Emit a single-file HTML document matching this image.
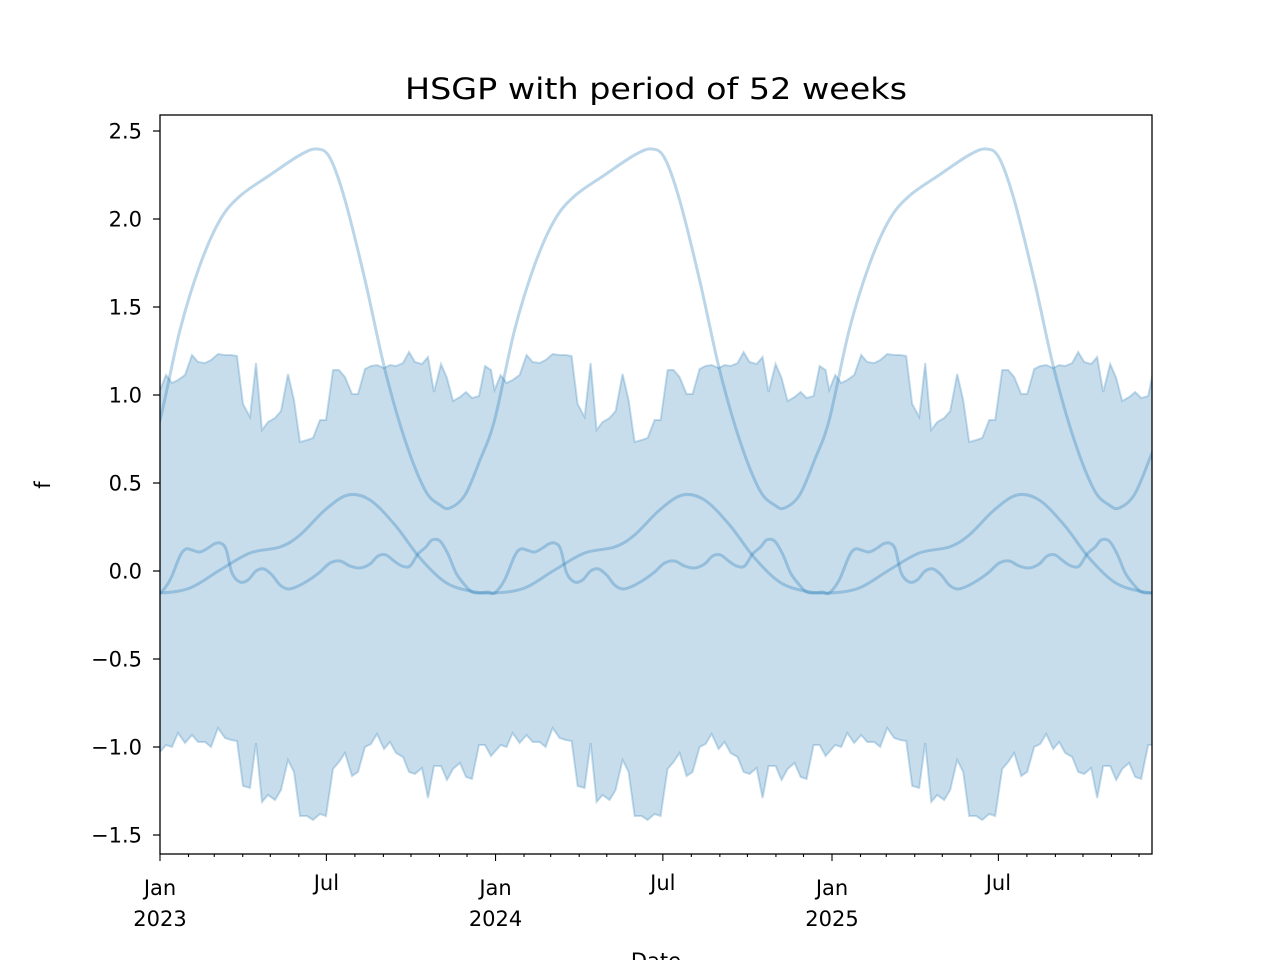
<!DOCTYPE html>
<html><head><meta charset="utf-8"><style>
html,body{margin:0;padding:0;background:#fff;}
svg{display:block;font-family:"DejaVu Sans","Liberation Sans",sans-serif;}
</style></head><body>
<svg id="s" width="1280" height="960" viewBox="0 0 1280 960" xmlns="http://www.w3.org/2000/svg">
<defs><clipPath id="c"><rect x="160" y="115" width="992" height="739"/></clipPath></defs>
<g id="plot" clip-path="url(#c)"></g>
<rect x="160" y="115" width="992" height="739" fill="none" stroke="#000" stroke-width="1.3"/>
<g id="ticks"></g>
<text x="656" y="99" font-size="29" text-anchor="middle" textLength="502" lengthAdjust="spacingAndGlyphs">HSGP with period of 52 weeks</text>
<text x="50" y="485" font-size="21" text-anchor="middle" transform="rotate(-90 50 485)">f</text>
<text x="656" y="968" font-size="21" text-anchor="middle">Date</text>
</svg>
<script>
const NS="http://www.w3.org/2000/svg";
const P=334.6;
const up=[[160,390],[166,375],[172,383],[178,380],[185,375],[192,355],[198,362],[205,363],[211,360],[218,354],[225,355],[231,355],[237,356],[243,404],[250,417],[256,363],[262,430],[268,422],[275,418],[281,411],[288,374],[294,400],[300,442],[307,440],[313,438],[320,420],[326,420],[333,370],[339,370],[345,377],[352,394],[358,394],[365,369],[371,366],[377,365],[384,368],[390,365],[396,366],[403,363],[409,352],[415,362],[422,364],[428,357],[434,392],[441,364],[447,378],[453,401],[460,397],[466,392],[472,398],[479,396],[485,366],[491,370]];
const lo=[[160,752],[166,745],[172,747],[178,733],[185,743],[192,735],[198,742],[205,742],[211,747],[218,728],[225,738],[231,740],[237,741],[243,786],[250,788],[256,743],[262,802],[268,795],[275,800],[281,790],[288,760],[294,772],[300,816],[307,816],[313,820],[320,814],[326,816],[333,769],[339,762],[345,753],[352,776],[358,772],[365,747],[371,744],[377,734],[384,749],[390,742],[396,753],[403,757],[409,772],[415,774],[422,768],[428,798],[434,766],[441,766],[447,780],[453,769],[460,763],[466,777],[472,779],[479,745],[485,745],[491,756]];
function rep(a){let r=[];for(let k=0;k<3;k++)for(const p of a)r.push([p[0]+k*P,p[1]]);r.push([160+3*P,a[0][1]]);return r;}
const U=rep(up),L=rep(lo);
const g=document.getElementById('plot');
function el(t,at){const e=document.createElementNS(NS,t);for(const k in at)e.setAttribute(k,at[k]);return e;}
const poly=U.map(p=>p.join(',')).concat(L.slice().reverse().map(p=>p.join(','))).join(' ');
g.appendChild(el('polygon',{points:poly,fill:'rgba(31,119,180,0.25)',stroke:'none'}));
g.appendChild(el('polyline',{points:U.map(p=>p.join(',')).join(' '),fill:'none',stroke:'rgba(31,119,180,0.25)','stroke-width':2}));
g.appendChild(el('polyline',{points:L.map(p=>p.join(',')).join(' '),fill:'none',stroke:'rgba(31,119,180,0.25)','stroke-width':2}));
function cr(a){let pts=[];for(let k=-1;k<4;k++)for(const p of a)pts.push([p[0]+k*P,p[1]]);
 let d='M'+pts[1][0]+','+pts[1][1];
 for(let i=1;i<pts.length-2;i++){const p0=pts[i-1],p1=pts[i],p2=pts[i+1],p3=pts[i+2];
  d+=' C'+(p1[0]+(p2[0]-p0[0])/6)+','+(p1[1]+(p2[1]-p0[1])/6)+' '+(p2[0]-(p3[0]-p1[0])/6)+','+(p2[1]-(p3[1]-p1[1])/6)+' '+p2[0]+','+p2[1];}
 return d;}
const big=[[160,420],[180,330],[200,265],[220,220],[240,196],[270,175],[300,155],[317,149],[330,158],[345,200],[365,280],[385,370],[405,440],[425,490],[440,505],[450,508],[465,495],[480,460]];
const med=[[160,593],[190,588],[220,570],[250,553],[280,547],[300,535],[325,510],[348,495],[370,500],[395,525],[420,558],[445,582],[470,591]];
const wig=[[160,593],[170,580],[180,556],[186,549],[192,550],[200,552],[208,548],[214,544],[220,543],[226,549],[232,573],[240,582],[248,580],[256,571],[264,569],[272,575],[280,585],[288,589],[296,587],[304,583],[312,578],[320,572],[330,563],[340,561],[350,566],[360,568],[370,564],[378,556],[386,555],[394,561],[402,566],[410,566],[418,554],[426,547],[432,540],[440,541],[448,554],[456,573],[464,584],[472,592],[480,593],[488,592]];
for(const c of [big,med,wig])g.appendChild(el('path',{d:cr(c),fill:'none',stroke:'rgba(31,119,180,0.3)','stroke-width':3}));
const t=document.getElementById('ticks');
for(let v=-1.5;v<=2.5001;v+=0.5){const y=571-176*v;
 t.appendChild(el('line',{x1:160,x2:153,y1:y,y2:y,stroke:'#000','stroke-width':1.2}));
 const tx=el('text',{x:142,y:y+7.5,'font-size':21,'text-anchor':'end'});tx.textContent=(v<0?'\u2212':'')+Math.abs(v).toFixed(1);t.appendChild(tx);}
const d0=Date.UTC(2023,0,1),sc=(832-160)/731;
for(let yr=2023;yr<=2025;yr++)for(let m=0;m<12;m++){const days=(Date.UTC(yr,m,1)-d0)/864e5;const x=160+days*sc;if(x>1153)continue;
 const major=(m==0||m==6);
 t.appendChild(el('line',{x1:x,x2:x,y1:854,y2:major?861:857,stroke:'#000','stroke-width':1.1}));
 if(major){const tx=el('text',{x:x,y:m==0?895:890,'font-size':21,'text-anchor':'middle'});tx.textContent=m==0?'Jan':'Jul';t.appendChild(tx);
  if(m==0){const t2=el('text',{x:x,y:926,'font-size':21,'text-anchor':'middle'});t2.textContent=yr;t.appendChild(t2);}}}
</script>
</body></html>
